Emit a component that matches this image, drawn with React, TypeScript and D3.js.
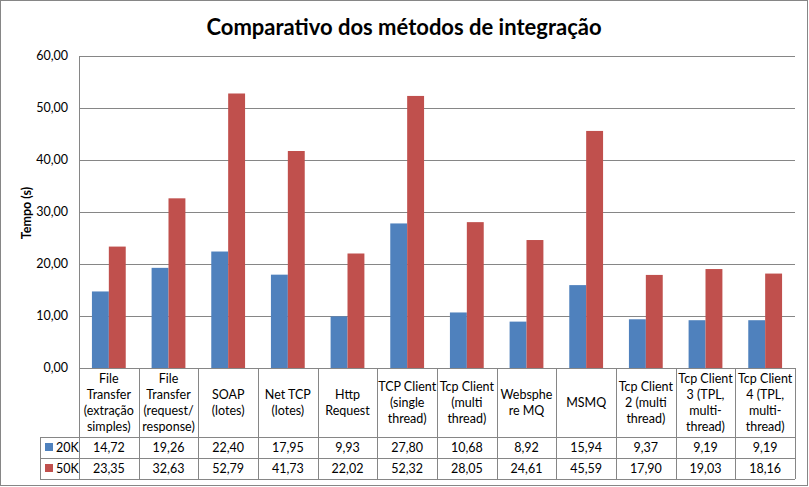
import * as d3 from "d3"

const categories: string[][] = [
  ["File", "Transfer", "(extração", "simples)"],
  ["File", "Transfer", "(request/", "response)"],
  ["SOAP", "(lotes)"],
  ["Net TCP", "(lotes)"],
  ["Http", "Request"],
  ["TCP Client", "(single", "thread)"],
  ["Tcp Client", "(multi", "thread)"],
  ["Websphe", "re MQ"],
  ["MSMQ"],
  ["Tcp Client", "2 (multi", "thread)"],
  ["Tcp Client", "3 (TPL,", "multi-", "thread)"],
  ["Tcp Client", "4 (TPL,", "multi-", "thread)"],
]
const values20k = [14.72, 19.26, 22.4, 17.95, 9.93, 27.8, 10.68, 8.92, 15.94, 9.37, 9.19, 9.19]
const values50k = [23.35, 32.63, 52.79, 41.73, 22.02, 52.32, 28.05, 24.61, 45.59, 17.9, 19.03, 18.16]
const seriesNames = ["20K", "50K"]
const seriesColors = ["#4F81BD", "#C0504D"]
const yTicks = [0, 10, 20, 30, 40, 50, 60]

const W = 809
const H = 487
const FONT = "Lato, 'Open Sans', sans-serif"
const GRID = "#868686"

export default function App() {
  const left = 79
  const right = 795
  const top = 56
  const bottom = 368
  const tableLabelBottom = 437
  const row1Bottom = 458
  const row2Bottom = 479
  const legendLeft = 40

  const keys = categories.map((_, i) => String(i))
  const x = d3.scaleBand().domain(keys).range([left, right]).padding(0)
  const inner = d3.scaleBand().domain(seriesNames).range([0, x.bandwidth()]).paddingInner(0).paddingOuter(0.765)
  const y = d3.scaleLinear().domain([0, 60]).range([bottom, top])
  const fmt = (v: number) => v.toFixed(2).replace(".", ",")
  const series = [values20k, values50k]
  const lineH = 16

  return (
    <svg width={W} height={H} style={{ position: "fixed", left: 0, top: 0, background: "#fff" }} fontFamily={FONT}>
      <rect x={0.5} y={0.5} width={W - 2} height={H - 2} fill="#fff" stroke={GRID} />
      <text x={404} y={35} textAnchor="middle" fontSize={22} fontWeight="bold" fill="#000">
        Comparativo dos métodos de integração
      </text>

      {/* gridlines and y ticks */}
      {yTicks.map((t) => (
        <g key={t}>
          <line x1={left} x2={right} y1={Math.round(y(t)) + 0.5} y2={Math.round(y(t)) + 0.5} stroke={GRID} />
          <text x={68} y={y(t) + 4} textAnchor="end" fontSize={12.5} fill="#000">
            {fmt(t)}
          </text>
        </g>
      ))}
      <line x1={left + 0.5} x2={left + 0.5} y1={top} y2={row2Bottom} stroke={GRID} />
      <text
        transform={`translate(31,213) rotate(-90)`}
        textAnchor="middle"
        fontSize={12.5}
        fontWeight="bold"
        fill="#000"
      >
        Tempo (s)
      </text>

      {/* bars */}
      {series.map((vals, s) =>
        vals.map((v, i) => (
          <rect
            key={`${s}-${i}`}
            x={(x(String(i)) ?? 0) + (inner(seriesNames[s]) ?? 0)}
            y={y(v)}
            width={inner.bandwidth()}
            height={bottom - y(v)}
            fill={seriesColors[s]}
          />
        ))
      )}

      {/* data table */}
      {keys.map((k, i) => {
        const x0 = x(k) ?? 0
        const cx = x0 + x.bandwidth() / 2
        const lines = categories[i]
        const cy = (bottom + tableLabelBottom) / 2
        const startY = cy - ((lines.length - 1) * lineH) / 2
        return (
          <g key={k}>
            <line x1={Math.round(x0 + x.bandwidth()) + 0.5} x2={Math.round(x0 + x.bandwidth()) + 0.5} y1={bottom} y2={row2Bottom} stroke={GRID} />
            {lines.map((ln, j) => (
              <text key={j} x={cx} y={startY + j * lineH + 4.5} textAnchor="middle" fontSize={12.5} fill="#000">
                {ln}
              </text>
            ))}
            <text x={cx} y={(tableLabelBottom + row1Bottom) / 2 + 4.5} textAnchor="middle" fontSize={12.5} fill="#000">
              {fmt(values20k[i])}
            </text>
            <text x={cx} y={(row1Bottom + row2Bottom) / 2 + 4.5} textAnchor="middle" fontSize={12.5} fill="#000">
              {fmt(values50k[i])}
            </text>
          </g>
        )
      })}
      <line x1={legendLeft} x2={right} y1={tableLabelBottom + 0.5} y2={tableLabelBottom + 0.5} stroke={GRID} />
      <line x1={legendLeft} x2={right} y1={row1Bottom + 0.5} y2={row1Bottom + 0.5} stroke={GRID} />
      <line x1={legendLeft} x2={right} y1={row2Bottom + 0.5} y2={row2Bottom + 0.5} stroke={GRID} />
      <line x1={legendLeft + 0.5} x2={legendLeft + 0.5} y1={tableLabelBottom} y2={row2Bottom} stroke={GRID} />
      {seriesNames.map((n, s) => {
        const ry = s === 0 ? tableLabelBottom : row1Bottom
        return (
          <g key={n}>
            <rect x={45} y={ry + 6} width={8} height={8} fill={seriesColors[s]} />
            <text x={56} y={ry + 15} fontSize={12.5} fill="#000">
              {n}
            </text>
          </g>
        )
      })}
    </svg>
  )
}
